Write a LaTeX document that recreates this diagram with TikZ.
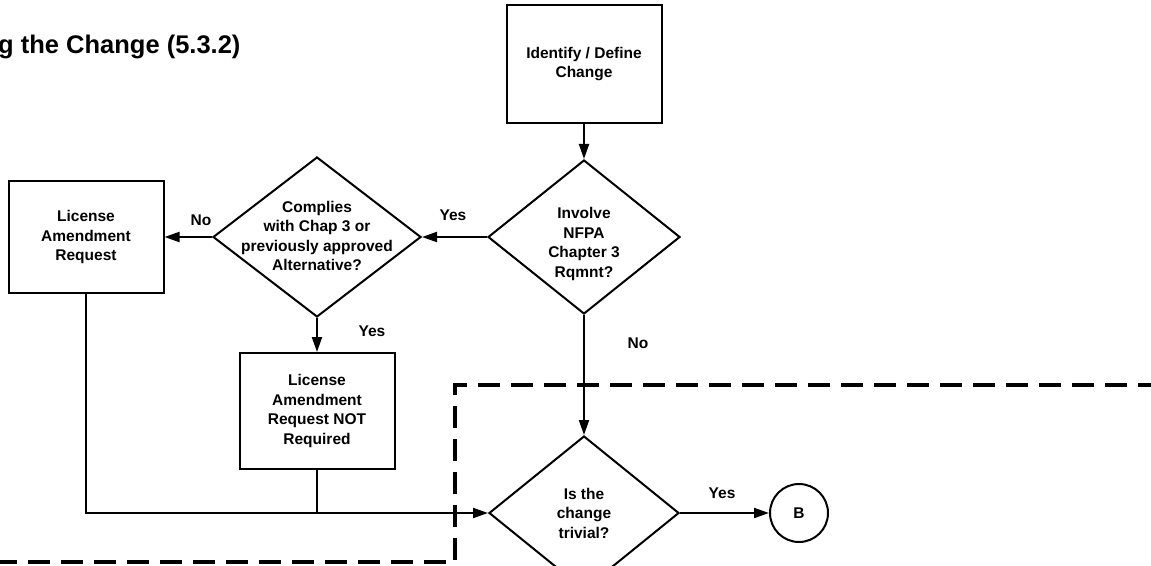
\documentclass[tikz,border=0pt]{standalone}
\usepackage{fontspec}
\setmainfont{Liberation Sans}
\usetikzlibrary{shapes.geometric,arrows.meta}

\begin{document}
\begin{tikzpicture}[x=1pt,y=-1pt,
  txt/.style={font=\bfseries\fontsize{15.5}{19.5}\selectfont, align=center, inner sep=0pt},
  procbox/.style={draw, line width=2pt, minimum width=155pt, inner sep=0pt, txt},
  decision/.style={draw, shape=diamond, line width=2pt, inner sep=0pt},
  conn/.style={line width=2pt},
  flow/.style={conn, -{Triangle[length=15pt,width=10pt]}},
  region/.style={line width=3.5pt, dash pattern=on 22pt off 11pt},
  connector/.style={draw, circle, line width=2pt, minimum size=58pt, txt}
]
% page
\fill[white] (0,0) rectangle (1151,565);
\useasboundingbox (0,0) rectangle (1151,565);
\clip (0,0) rectangle (1151,565);

% heading (runs off the left edge of the sheet)
\node[anchor=base west, inner sep=0pt, font=\bfseries\fontsize{25.5}{30}\selectfont] (title) at (-2,53) {g the Change (5.3.2)};

% process boxes
\node[procbox, minimum height=118pt] (ident) at (584,64) {Identify / Define\\Change};
\node[procbox, minimum height=112pt] (lar) at (86,237) {License\\Amendment\\Request};
\node[procbox, minimum height=116pt] (nreq) at (317,411) {License\\Amendment\\Request NOT\\Required};

% decisions
\node[decision, minimum width=192pt, minimum height=154pt] (inv) at (584,237) {};
\node[txt] (invtxt) at (584,244) {Involve\\NFPA\\Chapter 3\\Rqmnt?};

\node[decision, minimum width=208pt, minimum height=160pt] (comp) at (317,237) {};
\node[txt] (comptxt) at (317,236) {Complies\\with Chap 3 or\\previously approved\\Alternative?};

\node[decision, minimum width=190pt, minimum height=154pt] (triv) at (584,513) {};
\node[txt] (trivtxt) at (584,513) {Is the\\change\\trivial?};

% off-page connector
\node[connector] (b) at (799,513) {B};

% dashed boundary
\draw[region] (-5,562) -- (455,562) -- (455,385) -- (1160,385);

% connectors
\draw[flow] (ident) -- (inv);
\draw[flow] (inv.west) -- (comp.east);
\draw[flow] (comp.west) -- (lar.east);
\draw[flow] (comp.south) -- (nreq.north);
\draw[flow] (inv.south) -- (triv.north);
\draw[flow] (lar.south) |- (triv.west);
\draw[conn] (nreq.south) -- (nreq.south |- triv.west);
\draw[flow] (triv.east) -- (b.west);

% branch labels
\node[txt] (yesinv) at (453,215) {Yes};
\node[txt] (nocomp) at (201,220) {No};
\node[txt] (yescomp) at (372,331) {Yes};
\node[txt] (noinv) at (638,343) {No};
\node[txt] (yestriv) at (722,493) {Yes};
\end{tikzpicture}
\end{document}
